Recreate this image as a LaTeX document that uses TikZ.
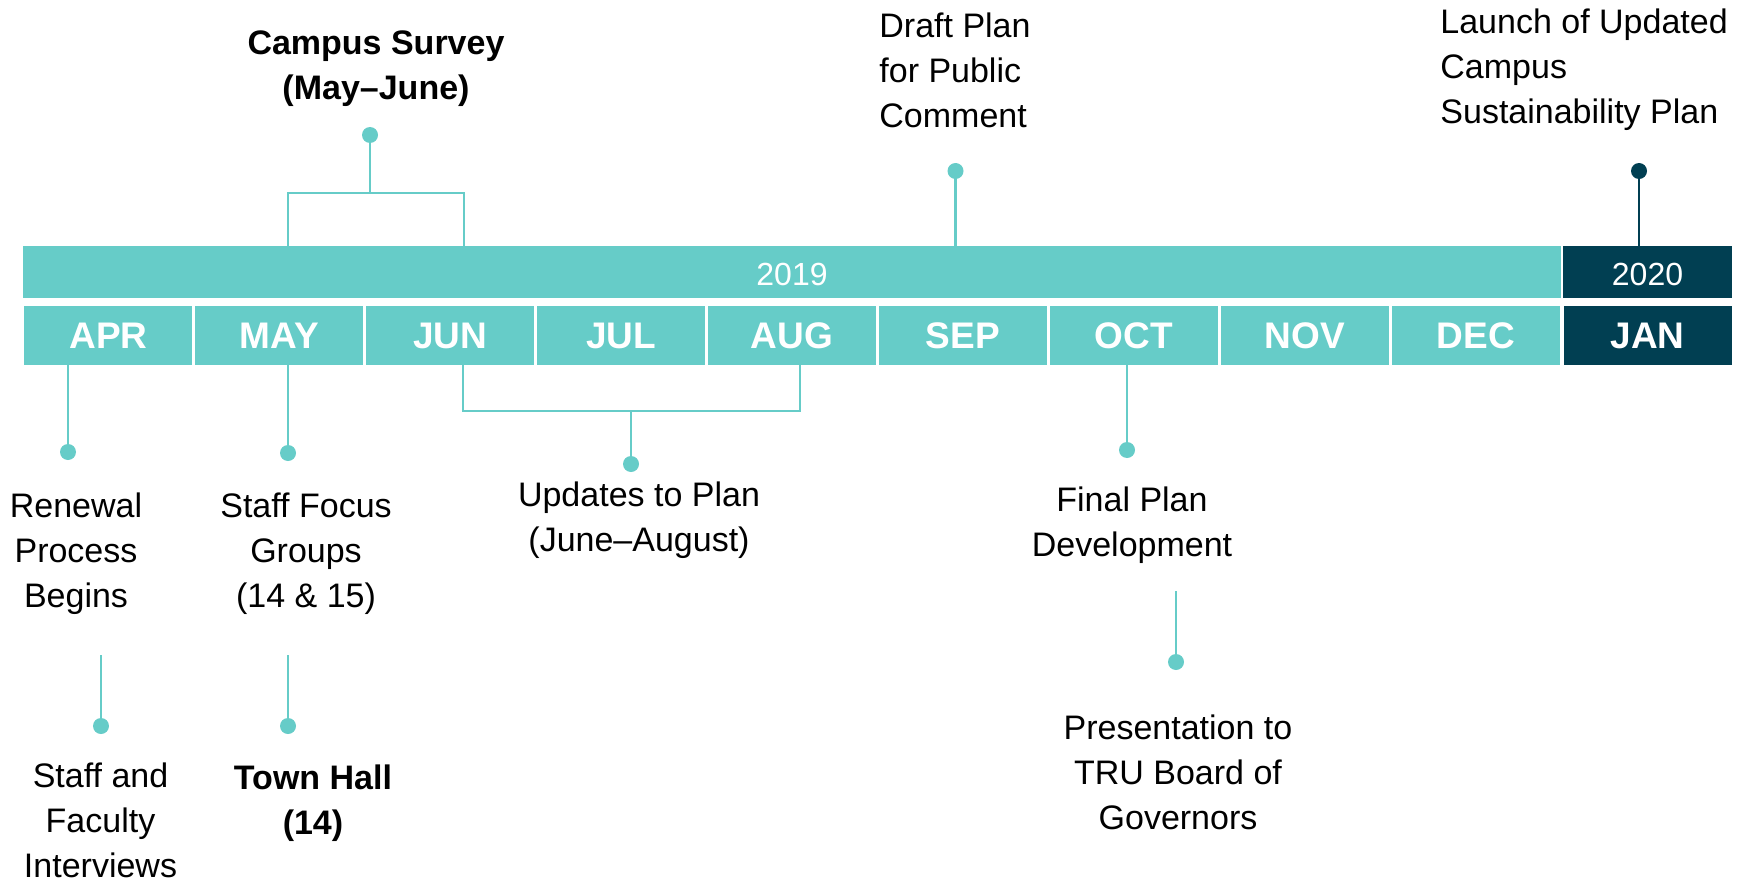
\documentclass[tikz,border=0pt]{standalone}
\usepackage{fontspec}
\setmainfont{Liberation Sans}
\definecolor{teal1}{RGB}{102,204,200}
\definecolor{navy1}{RGB}{1,63,82}
\begin{document}
\begin{tikzpicture}[x=0.5pt,y=-0.5pt,
  lbl/.style={font=\fontsize{17pt}{22.6pt}\selectfont, inner sep=0pt, align=center, anchor=north, text=black},
  lblb/.style={lbl, font=\fontsize{17pt}{22.6pt}\selectfont\bfseries},
  lbll/.style={lbl, align=left, anchor=north west},
  month/.style={fill=teal1, minimum width=84pt, minimum height=29.5pt, inner sep=0pt, text=white, font=\fontsize{18.5pt}{20pt}\selectfont\bfseries},
  yearbar/.style={fill=teal1, minimum height=26pt, inner sep=0pt, text=white, text height=13.8pt, text depth=0pt, font=\fontsize{16pt}{18pt}\selectfont},
  dot/.style={circle, fill=teal1, minimum size=8pt, inner sep=0pt},
  conn/.style={draw=teal1, line width=1.3pt},
]
\useasboundingbox (0,0) rectangle (1750,883);

% year bars
\node[yearbar, minimum width=769pt] (y19) at (792,272) {2019};
\node[yearbar, fill=navy1, minimum width=84.5pt] (y20) at (1647.5,272) {2020};

% months
\foreach \m [count=\i from 0] in {APR,MAY,JUN,JUL,AUG,SEP,OCT,NOV,DEC}{
  \node[month] (m\i) at ({23+170.9*(\i+0.5)},335.5) {\m};
}
\node[month, fill=navy1] (m9) at (1647.5,335.5) {JAN};

% ---- top events ----
% Campus survey bracket
\node[dot] (dsur) at (370,135) {};
\coordinate (sb) at (370,193);
\coordinate (sl) at (288,193);
\coordinate (sr) at (464,193);
\draw[conn] (dsur.center) -- (sb);
\draw[conn] (y19.north -| sl) -- (sl) -- (sr) -- (y19.north -| sr);
\node[lblb] (tsur) at (376,30) {Campus Survey\\(May\textendash June)};

% Draft plan
\node[dot] (ddraft) at (955.5,171) {};
\draw[conn] (ddraft.center) -- (y19.north -| ddraft);
\node[lbll] (tdraft) at (879,12) {Draft Plan\\for Public\\Comment};

% Launch
\node[dot, fill=navy1] (dlaunch) at (1639,171) {};
\draw[draw=navy1, line width=1.3pt] (dlaunch.center) -- (y20.north -| dlaunch);
\node[lbll] (tlaunch) at (1440,8) {Launch of Updated\\Campus\\Sustainability Plan};

% ---- bottom events ----
% Renewal
\node[dot] (dren) at (68,452) {};
\draw[conn] (m0.south -| dren) -- (dren.center);
\node[lbl] (tren) at (76,492) {Renewal\\Process\\Begins};

% Staff focus groups
\node[dot] (dsfg) at (288,453) {};
\draw[conn] (m1.south -| dsfg) -- (dsfg.center);
\node[lbl] (tsfg) at (306,492) {Staff Focus\\Groups\\(14 \& 15)};

% Updates bracket
\coordinate (ul) at (463,411);
\coordinate (ur) at (800,411);
\node[dot] (dupd) at (631,464) {};
\draw[conn] (m2.south -| ul) -- (ul) -- (ur) -- (m4.south -| ur);
\draw[conn] (dupd |- ul) -- (dupd.center);
\node[lbl] (tupd) at (639,481) {Updates to Plan\\(June\textendash August)};

% Final plan
\node[dot] (dfin) at (1127,450) {};
\draw[conn] (m6.south -| dfin) -- (dfin.center);
\node[lbl] (tfin) at (1132,486) {Final Plan\\Development};

% Staff and faculty interviews
\coordinate (csfi) at (101,655);
\node[dot] (dsfi) at (101,726) {};
\draw[conn] (csfi) -- (dsfi.center);
\node[lbl] (tsfi) at (100.5,762) {Staff and\\Faculty\\Interviews};

% Town hall
\coordinate (cth) at (288,655);
\node[dot] (dth) at (288,726) {};
\draw[conn] (cth) -- (dth.center);
\node[lblb] (tth) at (313,764) {Town Hall\\(14)};

% Presentation
\coordinate (cpres) at (1176,591);
\node[dot] (dpres) at (1176,662) {};
\draw[conn] (cpres) -- (dpres.center);
\node[lbl] (tpres) at (1178,714) {Presentation to\\TRU Board of\\Governors};
\end{tikzpicture}
\end{document}
